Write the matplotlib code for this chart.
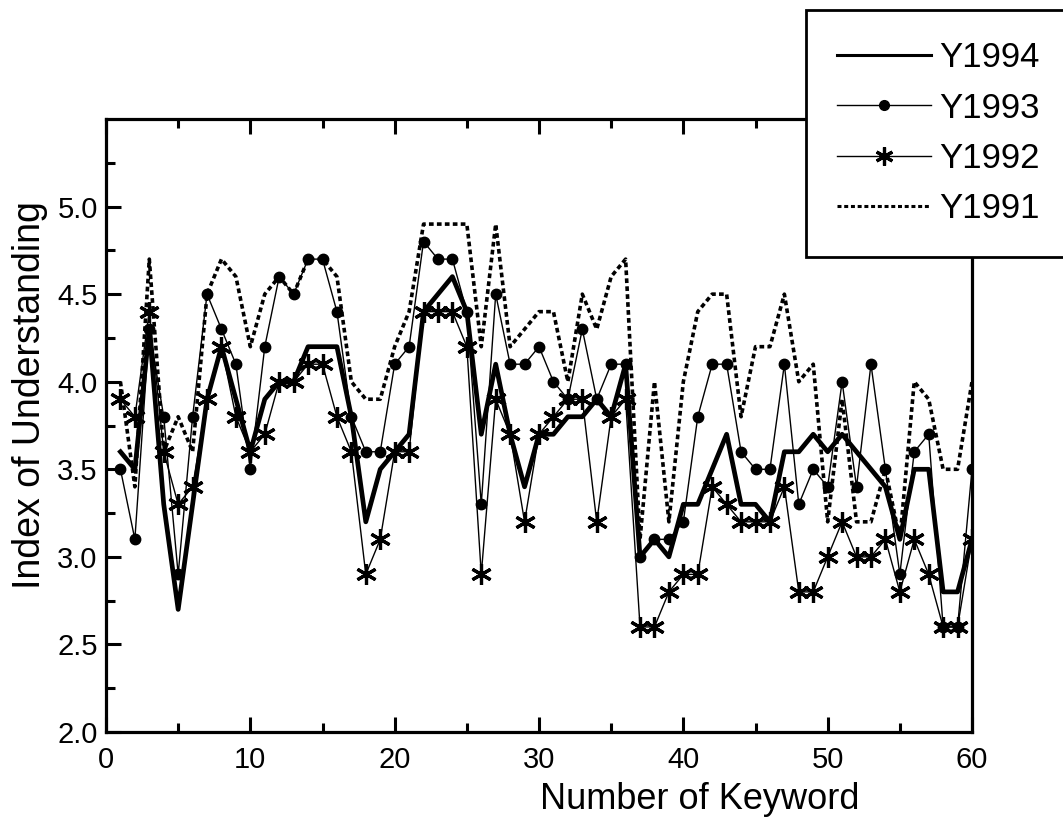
#recreate line chart of index of understanding per keyword for four survey years

import matplotlib
matplotlib.use('Agg')
import matplotlib.pyplot as plt
from matplotlib.ticker import MultipleLocator, FixedLocator

#keyword numbers and values per year
keyword = list(range(1, 61))

y1994 = [3.6, 3.5, 4.3, 3.3, 2.7, 3.3, 3.9, 4.2, 3.9, 3.6,
         3.9, 4.0, 4.0, 4.2, 4.2, 4.2, 3.8, 3.2, 3.5, 3.6,
         3.7, 4.4, 4.5, 4.6, 4.4, 3.7, 4.1, 3.7, 3.4, 3.7,
         3.7, 3.8, 3.8, 3.9, 3.8, 4.1, 3.0, 3.1, 3.0, 3.3,
         3.3, 3.5, 3.7, 3.3, 3.3, 3.2, 3.6, 3.6, 3.7, 3.6,
         3.7, 3.6, 3.5, 3.4, 3.1, 3.5, 3.5, 2.8, 2.8, 3.1]

y1993 = [3.5, 3.1, 4.3, 3.8, 2.9, 3.8, 4.5, 4.3, 4.1, 3.5,
         4.2, 4.6, 4.5, 4.7, 4.7, 4.4, 3.8, 3.6, 3.6, 4.1,
         4.2, 4.8, 4.7, 4.7, 4.4, 3.3, 4.5, 4.1, 4.1, 4.2,
         4.0, 3.9, 4.3, 3.9, 4.1, 4.1, 3.0, 3.1, 3.1, 3.2,
         3.8, 4.1, 4.1, 3.6, 3.5, 3.5, 4.1, 3.3, 3.5, 3.4,
         4.0, 3.4, 4.1, 3.5, 2.9, 3.6, 3.7, 2.6, 2.6, 3.5]

y1992 = [3.9, 3.8, 4.4, 3.6, 3.3, 3.4, 3.9, 4.2, 3.8, 3.6,
         3.7, 4.0, 4.0, 4.1, 4.1, 3.8, 3.6, 2.9, 3.1, 3.6,
         3.6, 4.4, 4.4, 4.4, 4.2, 2.9, 3.9, 3.7, 3.2, 3.7,
         3.8, 3.9, 3.9, 3.2, 3.8, 3.9, 2.6, 2.6, 2.8, 2.9,
         2.9, 3.4, 3.3, 3.2, 3.2, 3.2, 3.4, 2.8, 2.8, 3.0,
         3.2, 3.0, 3.0, 3.1, 2.8, 3.1, 2.9, 2.6, 2.6, 3.1]

y1991 = [4.0, 3.4, 4.7, 3.6, 3.8, 3.6, 4.5, 4.7, 4.6, 4.2,
         4.5, 4.6, 4.5, 4.7, 4.7, 4.6, 4.0, 3.9, 3.9, 4.2,
         4.4, 4.9, 4.9, 4.9, 4.9, 4.2, 4.9, 4.2, 4.3, 4.4,
         4.4, 4.0, 4.5, 4.3, 4.6, 4.7, 3.1, 4.0, 3.2, 4.0,
         4.4, 4.5, 4.5, 3.8, 4.2, 4.2, 4.5, 4.0, 4.1, 3.2,
         3.9, 3.2, 3.2, 3.5, 3.1, 4.0, 3.9, 3.5, 3.5, 4.0]

plt.rcParams['font.family'] = ['Liberation Sans', 'DejaVu Sans']

fig = plt.figure(figsize=(10.63, 8.26), dpi=100)
ax = fig.add_axes([106/1063, 1-732/826, 866/1063, 613/826])

#6-armed asterisk like the original plotting software
star = (6, 2, 0)

l1, = ax.plot(keyword, y1994, color='black', linewidth=3.4, label='Y1994', zorder=5)
l2, = ax.plot(keyword, y1993, color='black', linewidth=1.0, marker='o', markersize=7.5, label='Y1993', zorder=4)
l3, = ax.plot(keyword, y1992, color='black', linewidth=1.0, marker=star, markersize=15,
              markeredgewidth=2.3, label='Y1992', zorder=3)
l4, = ax.plot(keyword, y1991, color='black', linewidth=2.6, linestyle=(0, (1.3, 0.9)), label='Y1991', zorder=2)

ax.set_xlim(0, 60)
ax.set_ylim(2.0, 5.5)
ax.xaxis.set_major_locator(MultipleLocator(10))
ax.xaxis.set_minor_locator(MultipleLocator(5))
ax.yaxis.set_major_locator(FixedLocator([2.0, 2.5, 3.0, 3.5, 4.0, 4.5, 5.0]))
ax.yaxis.set_minor_locator(FixedLocator([2.25, 2.75, 3.25, 3.75, 4.25, 4.75, 5.25]))
ax.yaxis.set_major_formatter(matplotlib.ticker.FormatStrFormatter('%.1f'))

ax.tick_params(which='both', direction='in', top=True, right=False, width=2.2, labelsize=21)
ax.tick_params(which='major', length=11)
ax.tick_params(axis='x', which='major', pad=10)
ax.tick_params(axis='y', which='major', pad=6)
ax.tick_params(which='minor', length=6.5)
for s in ax.spines.values():
    s.set_linewidth(2.3)

ax.set_xlabel('Number of Keyword', fontsize=26)
ax.xaxis.set_label_coords(0.685, -0.082)
fig.text(30/1063, 1-395/826, 'Index of Understanding', fontsize=27, rotation=90,
         ha='center', va='center')

leg = fig.legend(handles=[l1, l2, l3, l4], loc='upper left', bbox_to_anchor=(806/1063, 1-10/826),
                 fontsize=25, handlelength=2.7, handletextpad=0.25, labelspacing=0.5,
                 borderpad=0.9, frameon=True, fancybox=False, edgecolor='black',
                 framealpha=1, borderaxespad=0)
leg.get_frame().set_linewidth(2.0)
for h in leg.legend_handles:
    h.set_linewidth(min(h.get_linewidth(), 2.2))
leg.legend_handles[1].set_markersize(7)
leg.legend_handles[2].set_markersize(13)

fig.savefig('out.png', dpi=100, facecolor='white')
